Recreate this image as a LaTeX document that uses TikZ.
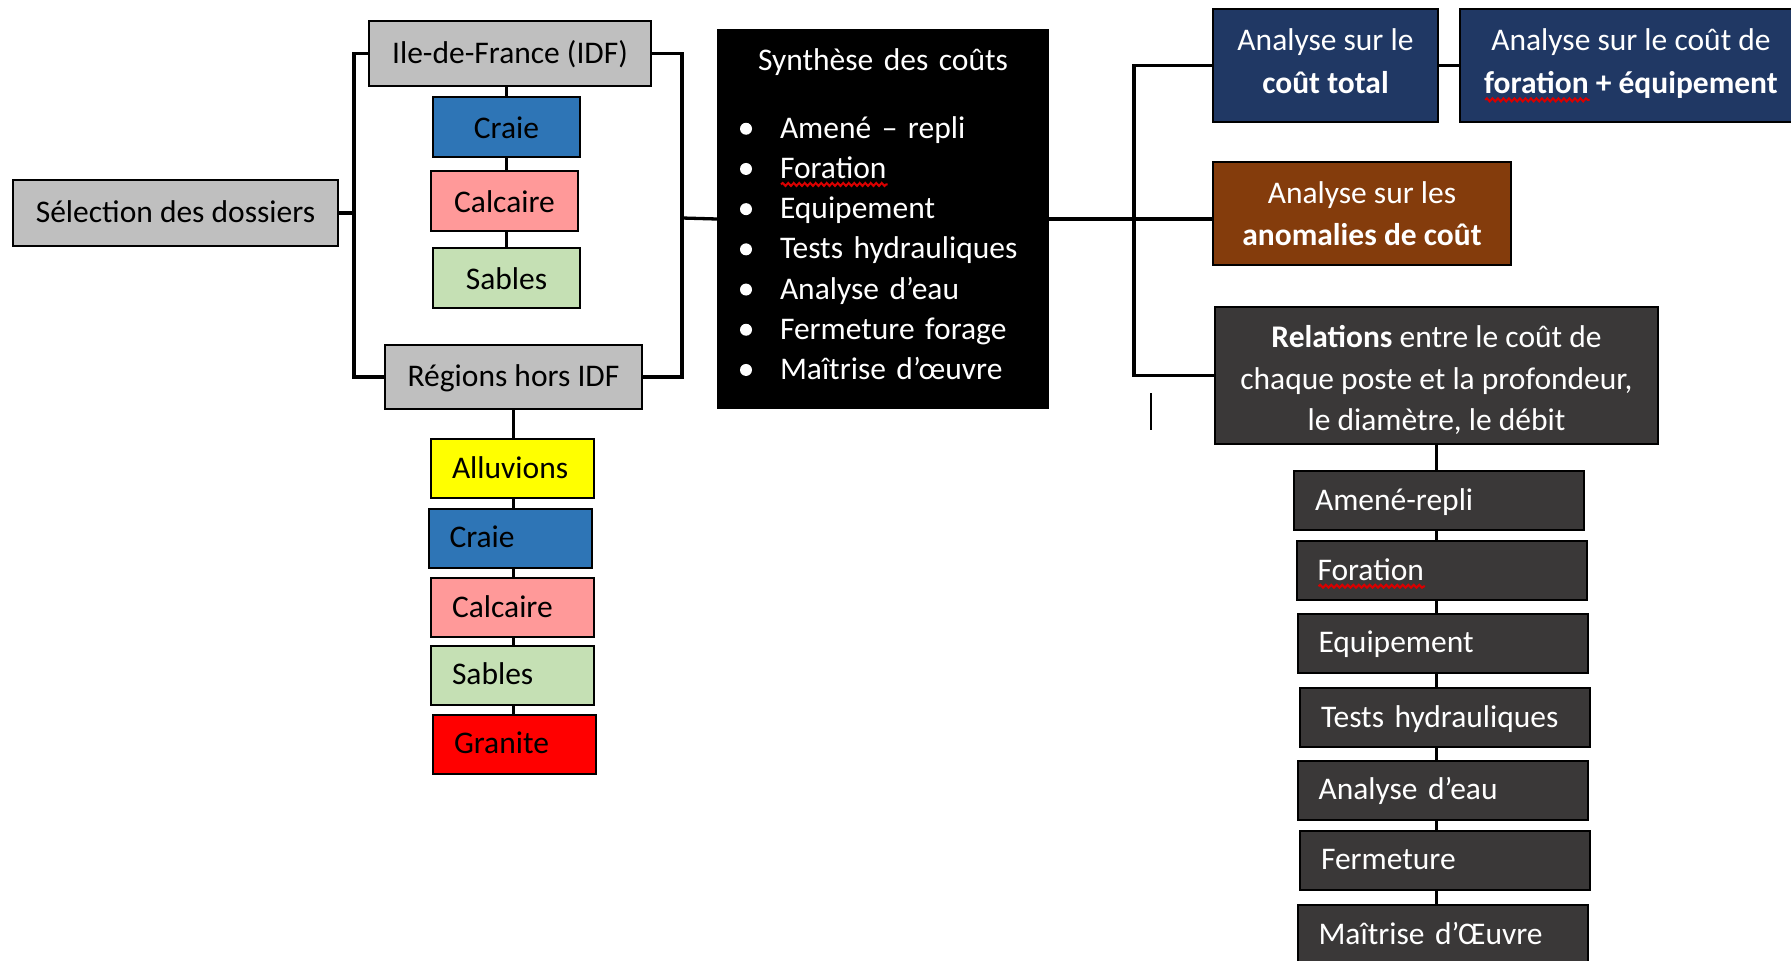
\documentclass[tikz,border=0pt]{standalone}
\usepackage{fontspec}
\setmainfont{Carlito}
\usepackage{tikz}
\usetikzlibrary{decorations.pathmorphing}

\definecolor{boxgrey}{HTML}{BFBFBF}
\definecolor{craieblue}{HTML}{2E75B6}
\definecolor{calcairepink}{HTML}{FF9999}
\definecolor{sablesgreen}{HTML}{C5E0B4}
\definecolor{alluvionsyellow}{HTML}{FFFF00}
\definecolor{granitered}{HTML}{FF0000}
\definecolor{analysenavy}{HTML}{203864}
\definecolor{anomaliebrown}{HTML}{843C0C}
\definecolor{postegrey}{HTML}{3A3838}

\newlength{\wavylen}
\newcommand{\wavy}[1]{\settowidth{\wavylen}{#1}\rlap{\tikz[baseline = 0pt]
   \draw[red!85!black, line width = 2pt, decorate, decoration = {snake, amplitude = 1.5pt, segment length = 5.5pt}]
   (0pt,-6pt) -- (\wavylen,-6pt);}#1}
\newcommand{\puce}[1]{\makebox[62pt][l]{\hspace{22pt}\tikz[baseline = 0pt] \fill[white] (0pt,9.5pt) circle (6pt);}#1}

\begin{document}
\begin{tikzpicture}
      [x = 1pt, y = -1pt,
      font = \fontsize{31.5}{42}\selectfont,
      link/.style = {line width = 3.3pt},
      box/.style = {
         draw,
         line width = 2pt,
         inner sep = 0pt,
         text height = 23.5pt,
         text depth = 4pt
      },
      greybox/.style = {box, fill = boxgrey},
      rockbox/.style = {box, text depth = 0pt, minimum width = 147pt, minimum height = 60pt},
      rocklist/.style = {
         box,
         text width = 121pt,
         align = left,
         inner xsep = 21pt,
         minimum height = 59pt
      },
      analysis/.style = {
         draw,
         line width = 2pt,
         text = white,
         align = center,
         inner sep = 0pt
      },
      postebox/.style = {
         box,
         fill = postegrey,
         text = white,
         text width = 248pt,
         align = left,
         inner xsep = 21pt,
         minimum height = 59pt
      }]

      \clip (0,0) rectangle (1791,961);

      \node[greybox, minimum width = 325pt, minimum height = 66pt] (selection) at (175.5,213) {Sélection des dossiers};
      \node[greybox, minimum width = 282pt, minimum height = 65pt] (idf) at (510,53.5) {Ile-de-France (IDF)};
      \node[rockbox, fill = craieblue] (craiea) at (506.5,127) {Craie};
      \node[rockbox, fill = calcairepink] (calca) at (504.5,201) {Calcaire};
      \node[rockbox, fill = sablesgreen] (sablea) at (506.5,277.5) {Sables};
      \node[greybox, minimum width = 257pt, minimum height = 64pt] (regions) at (513.5,377) {Régions hors IDF};
      \node[rocklist, fill = alluvionsyellow] (alluv) at (512.5,468.5) {Alluvions};
      \node[rocklist, fill = craieblue] (craieb) at (510,538) {Craie};
      \node[rocklist, fill = calcairepink] (calcb) at (512.5,607.5) {Calcaire};
      \node[rocklist, fill = sablesgreen] (sableb) at (512.5,675) {Sables};
      \node[rocklist, fill = granitered] (granite) at (514.5,744) {Granite};

      \node[draw, fill = black, text = white, line width = 2pt, inner sep = 0pt,
         text width = 330pt, minimum height = 378pt, align = left,
         font = \fontsize{31.5}{40.2}\selectfont, anchor = north west] (synth) at (717,29)
         {\noindent\rule{0pt}{24pt}\makebox[330pt][c]{Synthèse des coûts}\\[27.5pt]
         \puce{Amené – repli}\\
         \puce{\wavy{Foration}}\\
         \puce{Equipement}\\
         \puce{Tests hydrauliques}\\
         \puce{Analyse d’eau}\\
         \puce{Fermeture forage}\\
         \puce{Maîtrise d’œuvre}\rule[-12pt]{0pt}{12pt}};

      \node[analysis, fill = analysenavy, font = \fontsize{31.5}{43.4}\selectfont,
         minimum width = 225pt, minimum height = 113pt] (anatotal) at (1325.5,65.5) {Analyse sur le\\\textbf{coût total}\rule[-9pt]{0pt}{9pt}};
      \node[analysis, fill = analysenavy, font = \fontsize{31.5}{43.4}\selectfont,
         minimum width = 342pt, minimum height = 113pt] (anafor) at (1631,65.5) {Analyse sur le coût de\\\textbf{\wavy{foration} + équipement}};
      \node[analysis, fill = anomaliebrown, minimum width = 298pt, minimum height = 103pt] (anomalies) at (1362,213.5) {\rule{0pt}{25.5pt}Analyse sur les\\\textbf{anomalies de coût}\rule[-4.5pt]{0pt}{4.5pt}};
      \node[analysis, fill = postegrey, font = \fontsize{31.5}{41.5}\selectfont,
         minimum width = 443pt, minimum height = 137pt] (relations) at (1436.5,375.5) {\rule{0pt}{31.5pt}\textbf{Relations} entre le coût de\\chaque poste et la profondeur,\\le diamètre, le débit};

      \node[postebox] (amene) at (1439,500.5) {Amené-repli};
      \node[postebox] (foration) at (1441.5,570.5) {\wavy{Foration}};
      \node[postebox] (equip) at (1442.5,643) {Equipement};
      \node[postebox] (tests) at (1445,717.5) {Tests hydrauliques};
      \node[postebox] (eau) at (1442.5,790) {Analyse d’eau};
      \node[postebox] (fermeture) at (1445,860) {Fermeture};
      \node[postebox] (moe) at (1442.5,934.5) {Maîtrise d’Œuvre};

      \coordinate (splitL) at (354,213);
      \coordinate (joinL) at (682,218);
      \coordinate (splitR) at (1134,218);
      \coordinate (cursor) at (1151,393);

      \draw[link] (selection.east) -- (splitL);
      \draw[link] (idf.west) -| (splitL) |- (regions.west);
      \draw[link] (idf.east) -| (joinL) |- (regions.east);
      \draw[link] (joinL) -- (synth.west);
      \foreach \a/\b in {idf/craiea, craiea/calca, calca/sablea}
         \draw[link] (craiea.north |- \a.south) -- (craiea.north |- \b.north);
      \foreach \a/\b in {regions/alluv, alluv/craieb, craieb/calcb, calcb/sableb, sableb/granite}
         \draw[link] (regions.south |- \a.south) -- (regions.south |- \b.north);

      \draw[link] (synth.east) -- (synth.east -| anomalies.west);
      \draw[link] (anatotal.west) -| (splitR) |- (relations.west);
      \draw[link] (anatotal.east) -- (anafor.west);
      \foreach \a/\b in {relations/amene, amene/foration, foration/equip, equip/tests, tests/eau, eau/fermeture, fermeture/moe}
         \draw[link] (relations.south |- \a.south) -- (relations.south |- \b.north);
      \draw[line width = 1.5pt] (cursor) -- ++(0,37);

   \end{tikzpicture}
\end{document}
